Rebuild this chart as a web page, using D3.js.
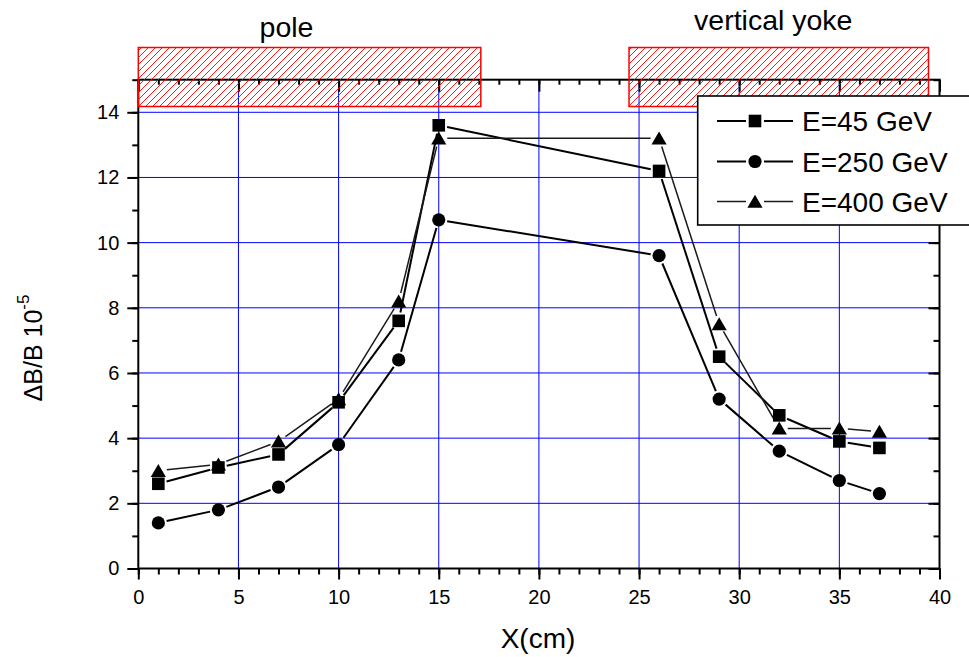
<!DOCTYPE html>
<html>
<head>
<meta charset="utf-8">
<script src="https://cdn.jsdelivr.net/npm/d3@7"></script>
<style>
  html, body { margin: 0; padding: 0; background: #fff; }
  svg { display: block; font-family: "Liberation Sans", Arial, sans-serif; }
</style>
</head>
<body>
<svg id="chart" width="969" height="657"></svg>
<script>
// ---- data ----
const xValues = [1, 4, 7, 10, 13, 15, 26, 29, 32, 35, 37];
const e45  = [2.6, 3.1, 3.5, 5.1, 7.6, 13.6, 12.2, 6.5, 4.7, 3.9, 3.7];
const e250 = [1.4, 1.8, 2.5, 3.8, 6.4, 10.7, 9.6, 5.2, 3.6, 2.7, 2.3];
const e400 = [3.0, 3.2, 3.9, 5.2, 8.2, 13.2, 13.2, 7.5, 4.3, 4.3, 4.2];
const seriesNames = ["E=45 GeV", "E=250 GeV", "E=400 GeV"];
const xTicks = [0, 5, 10, 15, 20, 25, 30, 35, 40];
const yTicks = [0, 2, 4, 6, 8, 10, 12, 14];
const regionNames = ["pole", "vertical yoke"];
const regionStart = [0, 24.5];
const regionEnd = [17.1, 39.45];
const regionLabelX = [7.4, 31.7];

// ---- layout ----
const svg = d3.select("#chart");
const L = 138.3, R = 939.5, B = 568.5, T = 79.7;
const x = d3.scaleLinear().domain([0, 40]).range([L, R]);
const y = d3.scaleLinear().domain([0, 15]).range([B, T]);

// hatch pattern
const defs = svg.append("defs");
const pat = defs.append("pattern").attr("id", "hatch")
  .attr("patternUnits", "userSpaceOnUse").attr("width", 7).attr("height", 7);
pat.append("path").attr("d", "M-1,1 l2,-2 M0,7 l7,-7 M6,8 l2,-2")
  .attr("stroke", "#ff0000").attr("stroke-width", 0.9).attr("fill", "none");

// grid
const g = svg.append("g");
g.selectAll("line.gx").data(xTicks.filter(d => d > 0 && d < 40)).join("line")
  .attr("x1", d => x(d)).attr("x2", d => x(d)).attr("y1", B).attr("y2", T)
  .attr("stroke", "#0000ff").attr("stroke-width", 1);
g.selectAll("line.gy").data(yTicks.filter(d => d > 0)).join("line")
  .attr("y1", d => y(d)).attr("y2", d => y(d)).attr("x1", L).attr("x2", R)
  .attr("stroke", "#0000ff").attr("stroke-width", 1);

// axes
const minorX = d3.range(0, 41, 1);
const minorY = d3.range(0, 16, 1);
function styleAxis(sel) {
  sel.select(".domain").remove();
  sel.selectAll("line").attr("stroke", "#000").attr("stroke-width", 2);
  sel.selectAll("text").attr("font-size", "20px").attr("fill", "#000");
}
// bottom
svg.append("g").attr("transform", `translate(0,${B})`)
  .call(d3.axisBottom(x).tickValues(minorX).tickSize(6).tickFormat(""))
  .call(styleAxis);
svg.append("g").attr("transform", `translate(0,${B})`)
  .call(d3.axisBottom(x).tickValues(xTicks).tickSize(11).tickPadding(10).tickFormat(d3.format("d")))
  .call(styleAxis);
// top (inward)
svg.append("g").attr("transform", `translate(0,${T})`)
  .call(d3.axisBottom(x).tickValues(minorX).tickSize(5).tickFormat(""))
  .call(styleAxis);
svg.append("g").attr("transform", `translate(0,${T})`)
  .call(d3.axisBottom(x).tickValues(xTicks).tickSize(12).tickFormat(""))
  .call(styleAxis);
// left
svg.append("g").attr("transform", `translate(${L},0)`)
  .call(d3.axisLeft(y).tickValues(minorY).tickSize(6).tickFormat(""))
  .call(styleAxis);
svg.append("g").attr("transform", `translate(${L},0)`)
  .call(d3.axisLeft(y).tickValues(yTicks).tickSize(11).tickPadding(8).tickFormat(d3.format("d")))
  .call(styleAxis);
// right (inward)
svg.append("g").attr("transform", `translate(${R},0)`)
  .call(d3.axisLeft(y).tickValues(minorY).tickSize(6).tickFormat(""))
  .call(styleAxis);
svg.append("g").attr("transform", `translate(${R},0)`)
  .call(d3.axisLeft(y).tickValues(yTicks).tickSize(11).tickFormat(""))
  .call(styleAxis);
// frame
svg.append("rect").attr("x", L).attr("y", T).attr("width", R - L).attr("height", B - T)
  .attr("fill", "none").attr("stroke", "#000").attr("stroke-width", 2);

// axis titles
svg.append("text").attr("x", 538).attr("y", 648).attr("text-anchor", "middle")
  .attr("font-size", "28px").text("X(cm)");
const yt = svg.append("text").attr("transform", "translate(42,348) rotate(-90)")
  .attr("text-anchor", "middle").attr("font-size", "25px");
yt.append("tspan").text("\u0394B/B 10");
yt.append("tspan").attr("dy", -13).attr("font-size", "17px").text("-5");

// markers & series
const series = [
  { vals: e45, shape: "square", width: 2, color: "#000" },
  { vals: e250, shape: "circle", width: 2, color: "#000" },
  { vals: e400, shape: "triangle", width: 1.5, color: "#1a1a1a" }
];
function drawMarker(sel, shape, cx, cy) {
  if (shape === "square") {
    sel.append("rect").attr("x", cx - 6.3).attr("y", cy - 6.3).attr("width", 12.6).attr("height", 12.6).attr("fill", "#000");
  } else if (shape === "circle") {
    sel.append("circle").attr("cx", cx).attr("cy", cy).attr("r", 6.6).attr("fill", "#000");
  } else {
    sel.append("path").attr("d", `M${cx},${cy - 6.8} L${cx + 7.6},${cy + 6.2} L${cx - 7.6},${cy + 6.2} Z`).attr("fill", "#000");
  }
}
const gap = 8.5;
const plotG = svg.append("g");
series.forEach(s => {
  const pts = xValues.map((xv, i) => [x(xv), y(s.vals[i])]);
  for (let i = 0; i < pts.length - 1; i++) {
    const [x0, y0] = pts[i], [x1, y1] = pts[i + 1];
    const dx = x1 - x0, dy = y1 - y0, len = Math.hypot(dx, dy);
    if (len <= 2 * gap) continue;
    const ux = dx / len, uy = dy / len;
    plotG.append("line")
      .attr("x1", x0 + ux * gap).attr("y1", y0 + uy * gap)
      .attr("x2", x1 - ux * gap).attr("y2", y1 - uy * gap)
      .attr("stroke", s.color).attr("stroke-width", s.width);
  }
});
series.forEach(s => {
  xValues.forEach((xv, i) => drawMarker(plotG, s.shape, x(xv), y(s.vals[i])));
});

// hatched regions
regionNames.forEach((name, i) => {
  const x0 = x(regionStart[i]), x1 = x(regionEnd[i]);
  svg.append("rect").attr("x", x0).attr("y", 47.5).attr("width", x1 - x0).attr("height", 59)
    .attr("fill", "url(#hatch)").attr("stroke", "#ff0000").attr("stroke-width", 1.5);
  svg.append("text").attr("x", x(regionLabelX[i])).attr("y", i === 0 ? 37 : 30)
    .attr("text-anchor", "middle").attr("font-size", "28.5px").text(name);
});

// legend
const lg = svg.append("g");
lg.append("rect").attr("x", 697.7).attr("y", 96).attr("width", 300).attr("height", 129)
  .attr("fill", "#fff").attr("stroke", "#000").attr("stroke-width", 1.6);
const rowY = [121, 161.5, 201.5];
series.forEach((s, i) => {
  const cy = rowY[i];
  lg.append("line").attr("x1", 717).attr("x2", 746).attr("y1", cy).attr("y2", cy)
    .attr("stroke", s.color).attr("stroke-width", s.width);
  lg.append("line").attr("x1", 764).attr("x2", 793).attr("y1", cy).attr("y2", cy)
    .attr("stroke", s.color).attr("stroke-width", s.width);
  drawMarker(lg, s.shape, 755, cy);
  lg.append("text").attr("x", 802).attr("y", cy + 10).attr("font-size", "28px").text(seriesNames[i]);
});
</script>
</body>
</html>
